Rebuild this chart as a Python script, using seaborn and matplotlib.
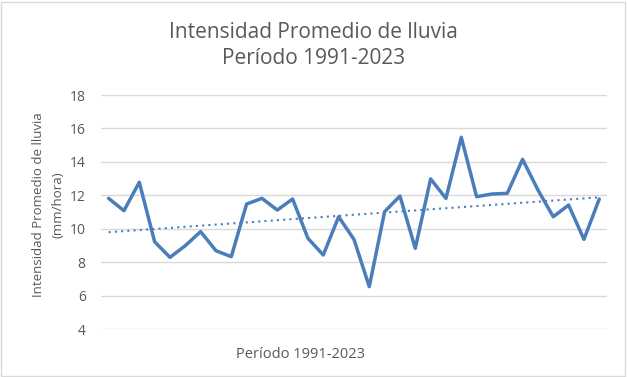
import numpy as np
import pandas as pd
import matplotlib
matplotlib.use("Agg")
import matplotlib.pyplot as plt
import seaborn as sns

# Datos (1991-2023)
years = list(range(1991, 2024))
intensity = [11.82, 11.08, 12.78, 9.23, 8.29, 8.99, 9.83, 8.69, 8.33, 11.48,
             11.82, 11.12, 11.78, 9.43, 8.43, 10.72, 9.37, 6.54, 11.02, 11.96,
             8.83, 12.98, 11.82, 15.47, 11.92, 12.08, 12.12, 14.15, 12.32, 10.72,
             11.42, 9.37, 11.78]
y_ticks = [4, 6, 8, 10, 12, 14, 16, 18]

df = pd.DataFrame({"idx": np.arange(len(years)), "year": years, "value": intensity})

sns.set_style("white")
plt.rcParams["font.family"] = ["Open Sans", "DejaVu Sans"]
gray = "#595959"
blue = "#4A7EBB"

fig = plt.figure(figsize=(6.27, 3.77), dpi=100)
ax = fig.add_axes([0.161, 0.127, 0.807, 0.621])

sns.lineplot(data=df, x="idx", y="value", color=blue, linewidth=2.5, ax=ax)
sns.regplot(data=df, x="idx", y="value", scatter=False, ci=None, ax=ax,
            line_kws={"color": blue, "linestyle": (0, (1, 2)), "linewidth": 1.5})

ax.set_xlim(-0.5, len(years) - 0.5)
ax.set_ylim(4, 18)
ax.set_yticks(y_ticks)
ax.set_yticklabels([str(t) for t in y_ticks], color=gray, fontsize=10)
ax.set_xticks([])
ax.yaxis.grid(True, color="#D9D9D9", linewidth=1)
ax.tick_params(axis="y", length=0, pad=11)
for s in ax.spines.values():
    s.set_visible(False)

ax.set_xlabel("")
ax.set_ylabel("Intensidad Promedio de lluvia\n(mm/hora)", color=gray, fontsize=9.5,
              linespacing=1.65)
ax.yaxis.set_label_coords(-0.072, 0.53)

# título del eje x (centrado como en el original)
fig.text(301 / 627, 1 - 355 / 377, "Período 1991-2023", color=gray, fontsize=10.5,
         ha="center", va="center")

fig.text(0.5, 1 - 45.5 / 377, "Intensidad Promedio de lluvia\nPeríodo 1991-2023",
         color=gray, fontsize=15, ha="center", va="center", linespacing=1.25)

# borde exterior del gráfico
fig.patches.append(plt.Rectangle((0.002, 0.003), 0.995, 0.993, transform=fig.transFigure,
                                 fill=False, edgecolor="#D9D9D9", linewidth=1))

fig.savefig("out.png", dpi=100)
